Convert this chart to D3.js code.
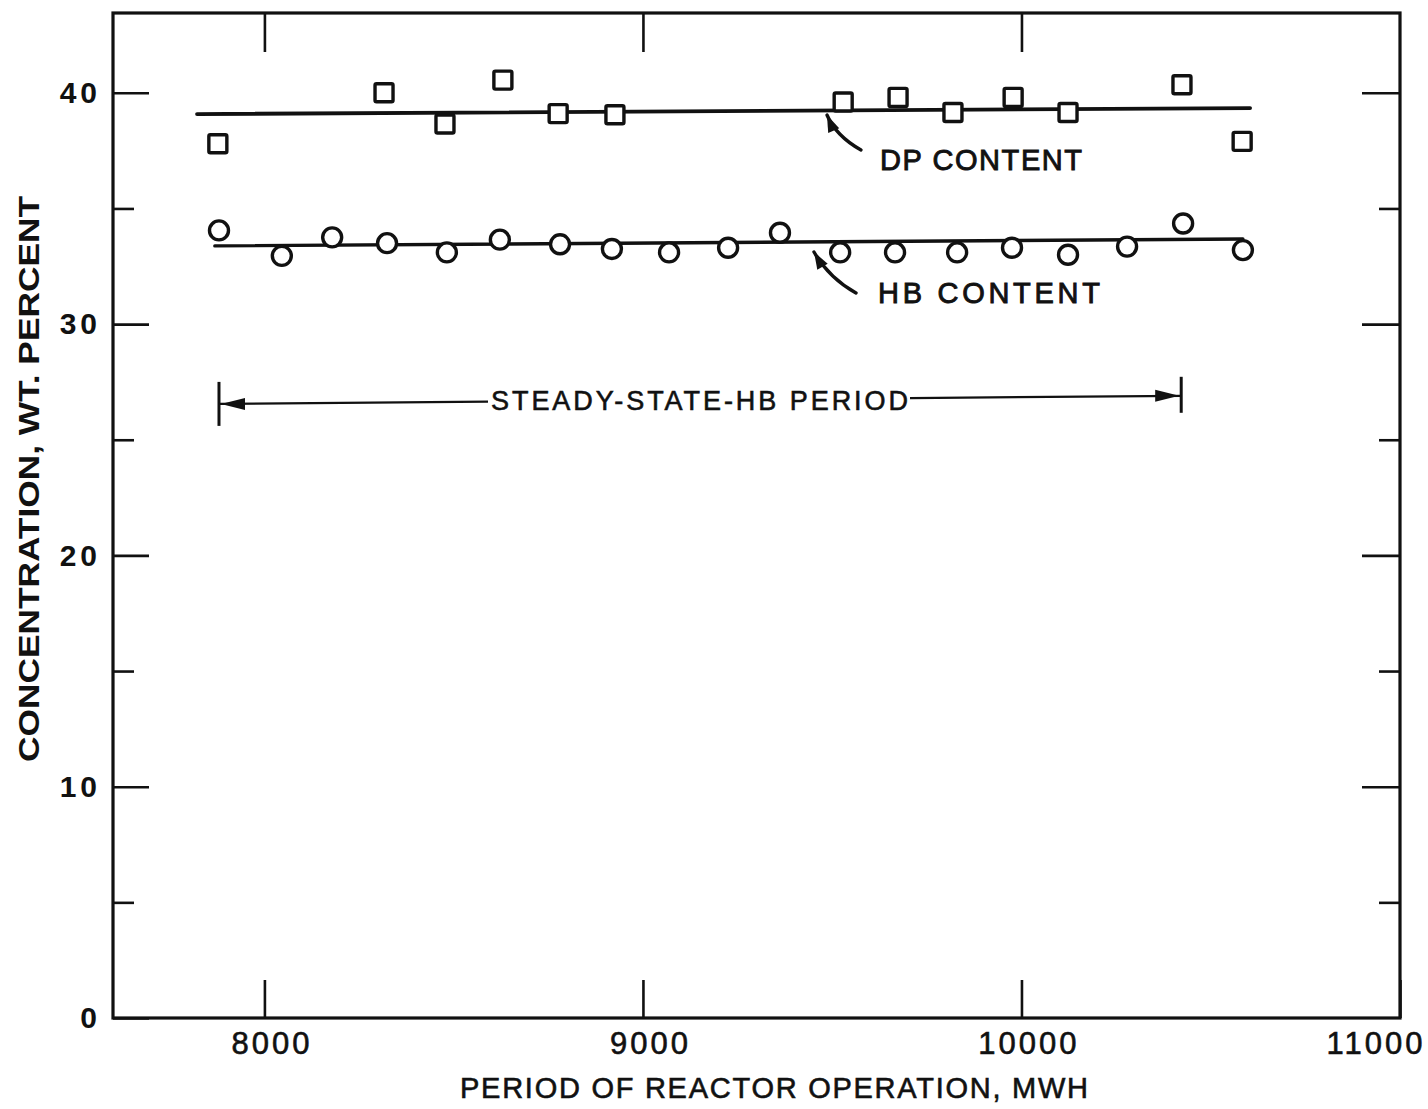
<!DOCTYPE html>
<html>
<head>
<meta charset="utf-8">
<script src="https://cdn.jsdelivr.net/npm/d3@7"></script>
<style>
  html, body { margin: 0; padding: 0; background: #fff; }
  svg { display: block; }
  text { font-family: "Liberation Sans", "DejaVu Sans", sans-serif; fill: #111; }
</style>
</head>
<body>
<svg id="chart" width="1428" height="1109"></svg>
<script>
// Reactor coolant composition over the steady-state HB period
const dpMwh = [7877, 8316, 8477, 8630, 8776, 8926, 9529, 9674, 9819, 9978, 10123, 10424, 10583];
const dpPct = [37.8, 40.0, 38.65, 40.55, 39.1, 39.05, 39.6, 39.8, 39.15, 39.8, 39.15, 40.35, 37.9];

const hbMwh = [7880, 8046, 8179, 8324, 8482, 8622, 8781, 8918, 9069, 9225, 9362, 9521, 9666, 9830, 9975, 10123, 10279, 10427, 10585];
const hbPct = [34.05, 32.95, 33.75, 33.5, 33.1, 33.65, 33.45, 33.25, 33.1, 33.3, 33.95, 33.1, 33.1, 33.1, 33.3, 33.0, 33.35, 34.35, 33.2];

// hand-fitted trend lines [mwh, pct]
const dpTrend = [[7822, 39.08], [10604, 39.34]];
const hbTrend = [[7869, 33.38], [10585, 33.68]];

// steady-state HB period bracket
const steadyPeriod = [7880, 10422];
const steadyLevel = [26.55, 26.9];

const xTicks = [8000, 9000, 10000, 11000];
const xTopTicks = [8000, 9000, 10000];
const yMajor = [0, 10, 20, 30, 40];
const yMinor = [5, 15, 25, 35];

const svg = d3.select("#chart");
const L = 113, R = 1400, T = 13, B = 1018;

const x = d3.scaleLinear().domain([7600, 11000]).range([L, R]);
const y = d3.scaleLinear().domain([0, 43.45]).range([B, T]);

const ink = "#111";

// frame
svg.append("rect")
  .attr("x", L).attr("y", T).attr("width", R - L).attr("height", B - T)
  .attr("fill", "none").attr("stroke", ink).attr("stroke-width", 3.2);

function styleAxis(g) {
  g.select(".domain").remove();
  g.selectAll(".tick line").attr("stroke", ink).attr("stroke-width", 2.6);
}

// bottom axis with labels
const gx = svg.append("g").attr("transform", `translate(0,${B})`)
  .call(d3.axisBottom(x).tickValues(xTicks).tickSize(-38).tickPadding(14).tickFormat(d3.format("d")));
styleAxis(gx);
gx.selectAll(".tick text")
  .attr("font-size", 31).attr("letter-spacing", 3).attr("fill", ink)
  .attr("stroke", ink).attr("stroke-width", 0.6)
  .attr("dx", 7);
gx.selectAll(".tick").filter(d => d === 11000).select("text")
  .attr("text-anchor", "end").attr("dx", 25);

// top axis ticks
const gxt = svg.append("g").attr("transform", `translate(0,${T})`)
  .call(d3.axisTop(x).tickValues(xTopTicks).tickSize(-39).tickFormat(""));
styleAxis(gxt);

// left axis, major ticks with labels
const gy = svg.append("g").attr("transform", `translate(${L},0)`)
  .call(d3.axisLeft(y).tickValues(yMajor).tickSize(-36).tickPadding(12).tickFormat(d3.format("d")));
styleAxis(gy);
gy.selectAll(".tick text")
  .attr("font-size", 30).attr("font-weight", "bold").attr("letter-spacing", 4).attr("fill", ink)
  .attr("font-family", "'DejaVu Sans', sans-serif");

// left minor ticks
styleAxis(svg.append("g").attr("transform", `translate(${L},0)`)
  .call(d3.axisLeft(y).tickValues(yMinor).tickSize(-21).tickFormat("")));

// right axis ticks
styleAxis(svg.append("g").attr("transform", `translate(${R},0)`)
  .call(d3.axisRight(y).tickValues(yMajor.filter(v => v > 0)).tickSize(-38).tickFormat("")));
styleAxis(svg.append("g").attr("transform", `translate(${R},0)`)
  .call(d3.axisRight(y).tickValues(yMinor).tickSize(-21).tickFormat("")));

// axis titles
svg.append("text")
  .attr("x", 460).attr("y", 1098)
  .attr("font-size", 29).attr("textLength", 628).attr("lengthAdjust", "spacing")
  .attr("stroke", ink).attr("stroke-width", 0.6)
  .text("PERIOD OF REACTOR OPERATION, MWH");

svg.append("text")
  .attr("transform", "translate(39,762) rotate(-90)")
  .attr("font-size", 30).attr("font-weight", "bold")
  .attr("font-family", "'DejaVu Sans', sans-serif")
  .attr("textLength", 566).attr("lengthAdjust", "spacingAndGlyphs")
  .text("CONCENTRATION, WT. PERCENT");

// trend lines
const line = d3.line().x(d => x(d[0])).y(d => y(d[1]));
svg.append("path").datum(dpTrend).attr("d", line)
  .attr("fill", "none").attr("stroke", ink).attr("stroke-width", 3.8).attr("stroke-linecap", "round");
svg.append("path").datum(hbTrend).attr("d", line)
  .attr("fill", "none").attr("stroke", ink).attr("stroke-width", 3.4).attr("stroke-linecap", "round");

// DP squares
const sq = 18;
svg.append("g").selectAll("rect")
  .data(dpMwh.map((m, i) => [m, dpPct[i]]))
  .join("rect")
  .attr("x", d => x(d[0]) - sq / 2).attr("y", d => y(d[1]) - sq / 2)
  .attr("width", sq).attr("height", sq).attr("rx", 1.5)
  .attr("fill", "#fff").attr("stroke", ink).attr("stroke-width", 3.4);

// HB circles
svg.append("g").selectAll("circle")
  .data(hbMwh.map((m, i) => [m, hbPct[i]]))
  .join("circle")
  .attr("cx", d => x(d[0])).attr("cy", d => y(d[1])).attr("r", 9.5)
  .attr("fill", "#fff").attr("stroke", ink).attr("stroke-width", 3.4);

// annotation arrows: curved shaft with a filled head
function callout(tail, head, ctrl) {
  svg.append("path")
    .attr("d", `M${tail[0]},${tail[1]} Q${ctrl[0]},${ctrl[1]} ${head[0]},${head[1]}`)
    .attr("fill", "none").attr("stroke", ink).attr("stroke-width", 3.4).attr("stroke-linecap", "round");
  const ang = Math.atan2(head[1] - ctrl[1], head[0] - ctrl[0]);
  const len = 17, half = 6;
  const bx = head[0] - len * Math.cos(ang), by = head[1] - len * Math.sin(ang);
  const px = -Math.sin(ang) * half, py = Math.cos(ang) * half;
  svg.append("path")
    .attr("d", `M${head[0]},${head[1]} L${bx + px},${by + py} L${bx - px},${by - py} Z`)
    .attr("fill", ink);
}
callout([861, 150], [827, 115], [836, 136]);
callout([856, 293], [814, 252], [829, 278]);

svg.append("text").attr("x", 880).attr("y", 170)
  .attr("font-size", 29).attr("textLength", 202).attr("lengthAdjust", "spacing")
  .attr("stroke", ink).attr("stroke-width", 0.9)
  .text("DP CONTENT");
svg.append("text").attr("x", 878).attr("y", 303)
  .attr("font-size", 29).attr("textLength", 222).attr("lengthAdjust", "spacing")
  .attr("stroke", ink).attr("stroke-width", 0.9)
  .text("HB CONTENT");

// steady-state period bracket
const bx0 = x(steadyPeriod[0]), bx1 = x(steadyPeriod[1]);
const by0 = y(steadyLevel[0]), by1 = y(steadyLevel[1]);
const tx0 = 488, tx1 = 910;
const yAt = px => by0 + (by1 - by0) * (px - bx0) / (bx1 - bx0);

const br = svg.append("g").attr("stroke", ink).attr("fill", ink);
br.append("line").attr("x1", bx0).attr("x2", bx0).attr("y1", by0 - 22).attr("y2", by0 + 22).attr("stroke-width", 3);
br.append("line").attr("x1", bx1).attr("x2", bx1).attr("y1", by1 - 19).attr("y2", by1 + 17).attr("stroke-width", 3);
br.append("line").attr("x1", bx0).attr("y1", by0).attr("x2", tx0).attr("y2", yAt(tx0)).attr("stroke-width", 2.2);
br.append("line").attr("x1", tx1).attr("y1", yAt(tx1)).attr("x2", bx1).attr("y2", by1).attr("stroke-width", 2.2);
br.append("path").attr("stroke", "none")
  .attr("d", `M${bx0 + 2},${by0} L${bx0 + 26},${by0 - 6} L${bx0 + 26},${by0 + 6} Z`);
br.append("path").attr("stroke", "none")
  .attr("d", `M${bx1 - 2},${by1} L${bx1 - 26},${by1 - 6} L${bx1 - 26},${by1 + 6} Z`);

svg.append("text").attr("x", tx0 + 3).attr("y", yAt(700) + 10)
  .attr("font-size", 27).attr("textLength", 417).attr("lengthAdjust", "spacing")
  .attr("stroke", ink).attr("stroke-width", 0.6)
  .text("STEADY-STATE-HB PERIOD");
</script>
</body>
</html>
